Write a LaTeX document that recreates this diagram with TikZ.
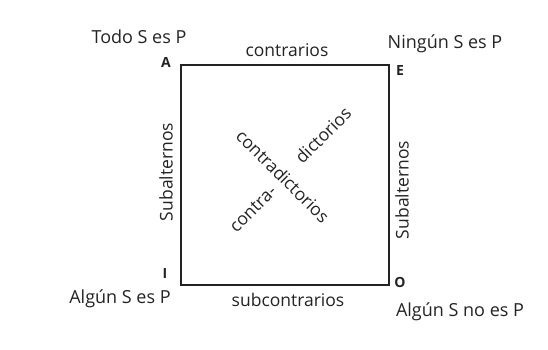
\documentclass[tikz,border=0pt]{standalone}
\usepackage{fontspec}
\setmainfont{Open Sans}
\usetikzlibrary{positioning}
\definecolor{inkgray}{RGB}{35,35,35}

\begin{document}
\begin{tikzpicture}[x=1pt, y=-1pt,
  every node/.style={font=\fontsize{18}{20}\selectfont, text=inkgray, inner sep=0pt},
  corner/.style={font=\fontsize{14}{16}\selectfont\bfseries},
  rel/.style={font=\fontsize{17.5}{19}\selectfont},
  side/.style={draw=inkgray, line width=1.5pt},
]
\useasboundingbox (0,0) rectangle (548,350);

%% Corners of the square
\coordinate (a) at (181,65);
\coordinate (e) at (389,65);
\coordinate (i) at (181,285);
\coordinate (o) at (389,285);

%% Square
\draw[side] (a) -- (e) -- (o) -- (i) -- cycle;

%% Corner letters
\node[corner] (la) at (166,62)  {A};
\node[corner] (le) at (400,71)  {E};
\node[corner] (li) at (165,274) {I};
\node[corner] (lo) at (400,282) {O};

%% Propositions
\node (todo)   at (139,37)  {Todo S es P};
\node (ningun) at (445,44)  {Ningún S es P};
\node (algun)  at (120,299) {Algún S es P};
\node (algno)  at (460,312) {Algún S no es P};

%% Relations
\node[rel] (contr)  at (287,50)  {contrarios};
\node[rel] (subc)   at (288,300) {subcontrarios};
\node[rel, rotate=90] (subl) at (166,172) {Subalternos};
\node[rel, rotate=90] (subr) at (402,190) {Subalternos};

%% Contradictorios
\node[rel, rotate=-45] (cdiag) at (283,176) {contradictorios};
\node[rel, rotate=45]  (cpre)  at (253,209) {contra-};
\node[rel, rotate=45]  (cpost) at (323,135) {dictorios};

\end{tikzpicture}
\end{document}
